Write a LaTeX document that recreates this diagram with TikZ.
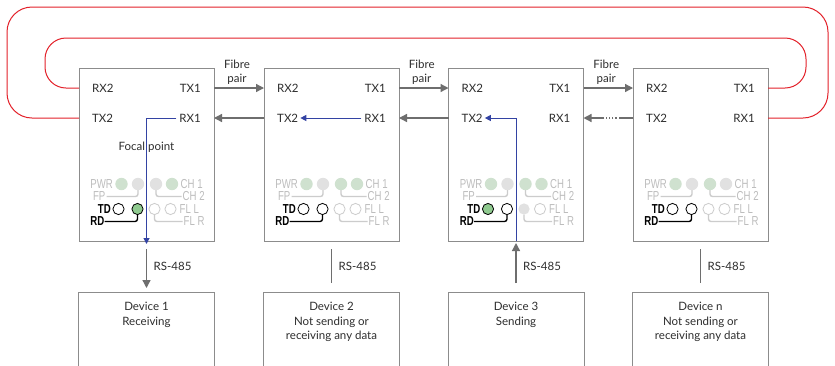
\documentclass[tikz,border=0pt]{standalone}
\usepackage{fontspec}
\setmainfont{Lato}
\newfontfamily\ledfont[FakeStretch=0.74]{Liberation Sans}
\usetikzlibrary{arrows.meta,calc}
\definecolor{loopred}{HTML}{E3212A}
\definecolor{boxgray}{HTML}{8C8C8C}
\definecolor{arrowgray}{HTML}{6E6E6E}
\definecolor{txt}{HTML}{2E2E2E}
\definecolor{navy}{HTML}{3343A3}
\definecolor{fadetxt}{HTML}{BDBDBD}
\definecolor{fadeline}{HTML}{CCCCCC}
\definecolor{ledgreen}{HTML}{CFE1CF}
\definecolor{ledgrey}{HTML}{E1E1E1}
\definecolor{ledon}{HTML}{8FCA8F}
\tikzset{
  modbox/.style={draw=boxgray, line width=1pt, minimum width=135pt, minimum height=173pt, inner sep=0pt, outer sep=0pt},
  devbox/.style={draw=boxgray, line width=1pt, minimum width=136pt, minimum height=100pt, inner sep=0pt, outer sep=0pt, anchor=north},
  lab/.style={font=\fontsize{11.5}{14.5}\selectfont, text=txt, inner sep=0pt},
  gline/.style={draw=arrowgray, line width=1.3pt},
  garrow/.style={gline, -{Triangle[length=8pt,width=8pt]}},
  bluel/.style={draw=navy, line width=1pt, -{Triangle[length=6pt,width=6pt]}},
  redloop/.style={draw=loopred, line width=1pt},
  ledtxt/.style={font=\ledfont\fontsize{13}{14}\selectfont, text=fadetxt, inner sep=0pt},
  ledbold/.style={font=\ledfont\bfseries\fontsize{13}{14}\selectfont, text=black, inner sep=0pt},
  fadebr/.style={draw=fadeline, line width=1.4pt, rounded corners=2.5pt},
  blackbr/.style={draw=black, line width=1.4pt, rounded corners=2.5pt},
  ledG/.style={fill=ledgreen},
  ledGr/.style={fill=ledgrey},
  ledW/.style={fill=white, draw=fadeline, line width=0.8pt},
  ledOn/.style={fill=ledon, draw=black, line width=0.8pt},
  ledOff/.style={fill=white, draw=black, line width=0.8pt},
}
\newcommand\ledpanel[9]{%
  \begin{scope}[shift={(m#1.center)}]
    % rows: PWR 29.5, FP 42, TD 54.5, RD 67
    \draw[fadebr] (-40,42) -- (-8.5,42) -- (-8.5,35.5);
    \draw[fadebr] (9.5,35.5) -- (9.5,42) -- (35,42);
    \draw[fadebr] (8,60) -- (8,67) -- (36,67);
    \draw[blackbr] (-42,67) -- (-9,67) -- (-9,60);
    \path[#2] (-25,29.5) circle[radius=6.2pt];
    \path[#3] (-8.5,29.5) circle[radius=6.2pt];
    \path[#4] (9.5,29.5) circle[radius=6.2pt];
    \path[#5] (25.5,29.5) circle[radius=6.2pt];
    \path[#6] (-28,54.5) circle[radius=5.6pt];
    \path[#7] (-9,54.5) circle[radius=5.6pt];
    \path[#8] (8,54.5) circle[radius=5.6pt];
    \path[#9] (24,54.5) circle[radius=5.6pt];
    \node[ledtxt, anchor=east] (m#1pwr) at (-33.5,29.5) {PWR};
    \node[ledtxt, anchor=west] (m#1ch1) at (34,29.5) {CH 1};
    \node[ledtxt, anchor=east] (m#1fp) at (-41,42) {FP};
    \node[ledtxt, anchor=west] (m#1ch2) at (36,42) {CH 2};
    \node[ledbold, anchor=east] (m#1td) at (-35.5,54.5) {TD};
    \node[ledtxt, anchor=west] (m#1fll) at (33,54.5) {FL L};
    \node[ledbold, anchor=east] (m#1rd) at (-42,67) {RD};
    \node[ledtxt, anchor=west] (m#1flr) at (37,67) {FL R};
  \end{scope}}
\begin{document}
\begin{tikzpicture}[x=1pt,y=-1pt]
\clip (0,0) rectangle (835,365);
\fill[white] (0,0) rectangle (835,365);
% modules
\foreach \i/\cx in {1/146.5,2/331.5,3/516,4/700.5}{
  \node[modbox] (m\i) at (\cx,154.5) {};
  \node[devbox] (d\i) at (\cx,292) {};
  \node[lab,anchor=west] (m\i rx2) at ($(m\i.north west)+(13,20)$) {RX2};
  \node[lab,anchor=east] (m\i tx1) at ($(m\i.north east)+(-13,20)$) {TX1};
  \node[lab,anchor=west] (m\i tx2) at ($(m\i.north west)+(13,50)$) {TX2};
  \node[lab,anchor=east] (m\i rx1) at ($(m\i.north east)+(-13,50)$) {RX1};
  \node[lab,anchor=west] (rs\i) at ($(m\i.south)+(7,25)$) {RS-485};
}
% device texts
\node[lab,anchor=north,align=center] (d1t) at ($(d1.north)+(0,10)$) {Device 1\\Receiving};
\node[lab,anchor=north,align=center] (d2t) at ($(d2.north)+(0,10)$) {Device 2\\Not sending or\\receiving any data};
\node[lab,anchor=north,align=center] (d3t) at ($(d3.north)+(0,10)$) {Device 3\\Sending};
\node[lab,anchor=north,align=center] (d4t) at ($(d4.north)+(0,10)$) {Device n\\Not sending or\\receiving any data};
% LED panels
\ledpanel{1}{ledG}{ledGr}{ledGr}{ledG}{ledOff}{ledOn}{ledW}{ledW}
\ledpanel{2}{ledG}{ledGr}{ledG}{ledG}{ledOff}{ledOff}{ledW}{ledW}
\ledpanel{3}{ledG}{ledGr}{ledG}{ledG}{ledOn}{ledOff}{ledGr}{ledW}
\ledpanel{4}{ledG}{ledGr}{ledG}{ledGr}{ledOff}{ledOff}{ledW}{ledW}
% fibre pair labels
\node[lab,align=center] (fp12) at ($(m1.north east)!0.5!(m2.north west)+(-2,4)$) {Fibre\\pair};
\node[lab,align=center] (fp23) at ($(m2.north east)!0.5!(m3.north west)+(-2,4)$) {Fibre\\pair};
\node[lab,align=center] (fp34) at ($(m3.north east)!0.5!(m4.north west)+(-2,4)$) {Fibre\\pair};
% forward fibre arrows
\draw[garrow] (m1.east |- m1tx1) -- (m2.west |- m2rx2);
\draw[garrow] (m2.east |- m2tx1) -- (m3.west |- m3rx2);
\draw[garrow] (m3.east |- m3tx1) -- (m4.west |- m4rx2);
% return arrows
\draw[garrow] (m2.west |- m2tx2) -- (m1.east |- m1rx1);
\draw[garrow] (m3.west |- m3tx2) -- (m2.east |- m2rx1);
\coordinate (dA) at ($(m4.west |- m4tx2)+(-13,0)$);
\coordinate (dB) at ($(m4.west |- m4tx2)+(-29,0)$);
\draw[gline] (m4.west |- m4tx2) -- (dA);
\draw[gline, dotted] (dA) -- (dB);
\draw[garrow] (dB) -- (m3.east |- m3rx1);
% red loops
\draw[redloop, rounded corners=25pt] (m1.west |- m1tx2) -- (7,118) -- (7,7) -- (828,7) -- (828,118) -- (m4.east |- m4rx1);
\draw[redloop, rounded corners=21pt] (m1.west |- m1rx2) -- (45,88) -- (45,38) -- (806,38) -- (806,88) -- (m4.east |- m4tx1);
% focal point
\node[lab] (focal) at ($(m1.north)+(0,79)$) {Focal point};
% blue data paths
\draw[bluel] ([xshift=-3pt]m1rx1.west) -| ([yshift=-3pt]m1.south);
\draw[bluel] ([xshift=-3pt]m2rx1.west) -- ([xshift=2pt]m2tx2.east);
\draw[bluel] (m3.south) |- ([xshift=2pt]m3tx2.east);
% RS-485 connectors
\draw[garrow] ([yshift=-8pt]m1.south) -- ([yshift=4pt]d1.north);
\draw[gline] ([yshift=-8pt]m2.south) -- ([yshift=9pt]d2.north);
\draw[garrow] ([yshift=9pt]d3.north) -- ([yshift=-2pt]m3.south);
\draw[gline] ([yshift=-8pt]m4.south) -- ([yshift=9pt]d4.north);
\end{tikzpicture}
\end{document}
